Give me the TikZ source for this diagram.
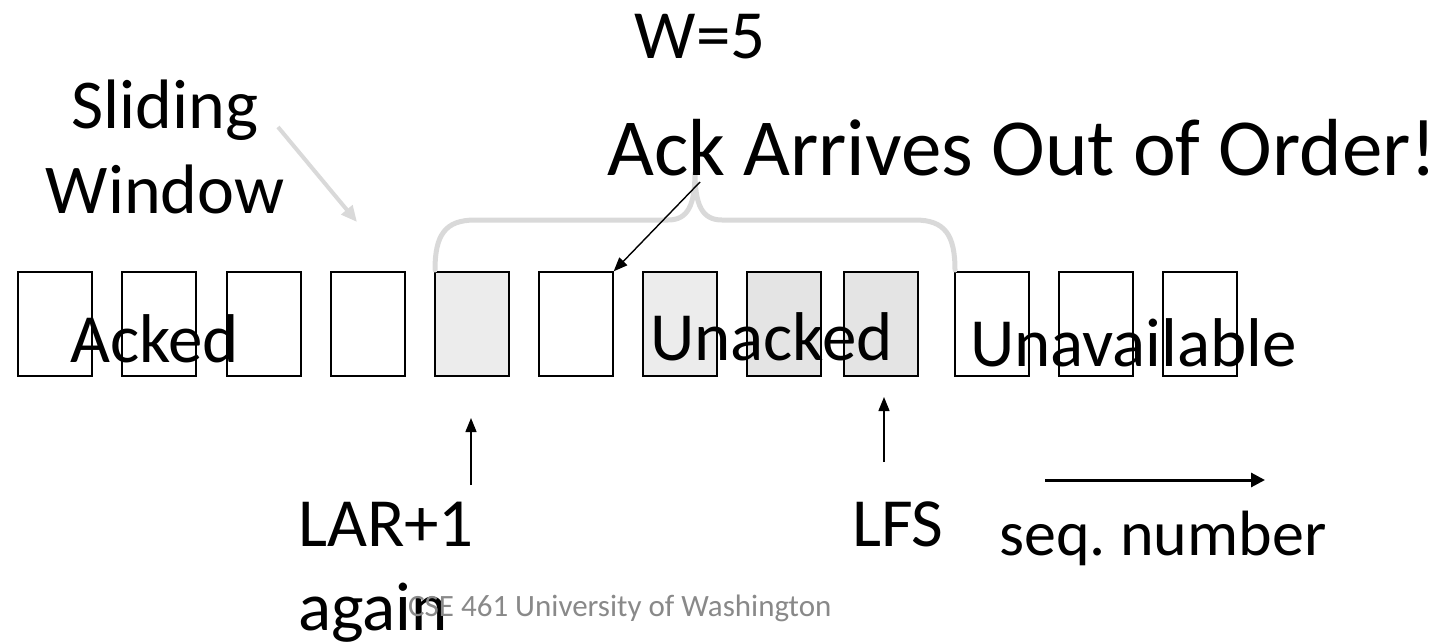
\documentclass[tikz,border=0pt]{standalone}
\usepackage{fontspec}
\setmainfont{Carlito}
\usetikzlibrary{arrows.meta}
\definecolor{lightgr}{RGB}{217,217,217}
\definecolor{fillA}{RGB}{236,236,236}
\definecolor{fillB}{RGB}{228,228,228}
\definecolor{footgr}{RGB}{137,137,137}
\begin{document}
\frenchspacing
\begin{tikzpicture}[x=1pt,y=-1pt,
  box/.style={draw,line width=1.3pt,minimum width=74pt,minimum height=104pt,inner sep=0pt},
  lbl/.style={inner sep=0pt,font=\fontsize{69}{84}\selectfont},
  blk/.style={-{Triangle[length=14pt,width=11pt]},line width=1.4pt},
  gryarrow/.style={-{Triangle[length=16pt,width=14pt]},line width=4pt,draw=lightgr},
  bracestyle/.style={draw=lightgr,line width=5pt,line cap=round}]
\useasboundingbox (0,0) rectangle (1452,643);
% boxes
\node[box] (b1) at (55,324) {};
\node[box] (b2) at (159,324) {};
\node[box] (b3) at (264,324) {};
\node[box] (b4) at (368,324) {};
\node[box,fill=fillA] (b5) at (472,324) {};
\node[box] (b6) at (576,324) {};
\node[box,fill=fillA] (b7) at (680,324) {};
\node[box,fill=fillB] (b8) at (784,324) {};
\node[box,fill=fillB] (b9) at (881,324) {};
\node[box] (b10) at (992,324) {};
\node[box] (b11) at (1096,324) {};
\node[box] (b12) at (1200,324) {};
% brace
\draw[bracestyle] (435,270) .. controls (435,235) and (445,220) .. (475,220) -- (668,220)
  .. controls (688,220) and (695,205) .. (695,172)
  .. controls (695,205) and (702,220) .. (722,220) -- (915,220)
  .. controls (945,220) and (955,235) .. (955,270);
% texts
\node[lbl,anchor=base] (w) at (700,58) {W=5};
\node[lbl,anchor=base,align=center,font=\fontsize{70}{85}\selectfont] (sw) at (165,213) {Sliding\\Window};
\node[lbl,anchor=base west,font=\fontsize{81}{97}\selectfont] (ack) at (607,175) {Ack Arrives Out of Order!};
\node[lbl,anchor=base west] (acked) at (70,362) {Acked};
\node[lbl,anchor=base west] (unacked) at (650,360) {Unacked};
\node[lbl,anchor=base west] (unav) at (970,366) {Unavailable};
\node[lbl,anchor=base west,align=left] (lar) at (298,630) {LAR+1\\again};
\node[lbl,anchor=base west] (lfs) at (852,546) {LFS};
\node[lbl,anchor=base west,font=\fontsize{64}{77}\selectfont] (seq) at (999,555) {seq. number};
\node[inner sep=0pt,anchor=base west,text=footgr,font=\fontsize{31}{37}\selectfont] (foot) at (408,616) {CSE 461 University of Washington};
% arrows
\coordinate (gs) at (278,127);
\coordinate (ge) at (357,222);
\draw[gryarrow] (gs) -- (ge);
\coordinate (ackA) at (700,182);
\draw[blk] (ackA) -- (b6.north east);
\coordinate (larA) at (471,485);
\coordinate (larB) at (471,418);
\draw[blk] (larA) -- (larB);
\coordinate (lfsA) at (884,462);
\coordinate (lfsB) at (884,397);
\draw[blk] (lfsA) -- (lfsB);
\coordinate (seqA) at (1045,480);
\coordinate (seqB) at (1265,480);
\draw[-{Triangle[length=14pt,width=14pt]},line width=3pt] (seqA) -- (seqB);
\end{tikzpicture}
\end{document}
